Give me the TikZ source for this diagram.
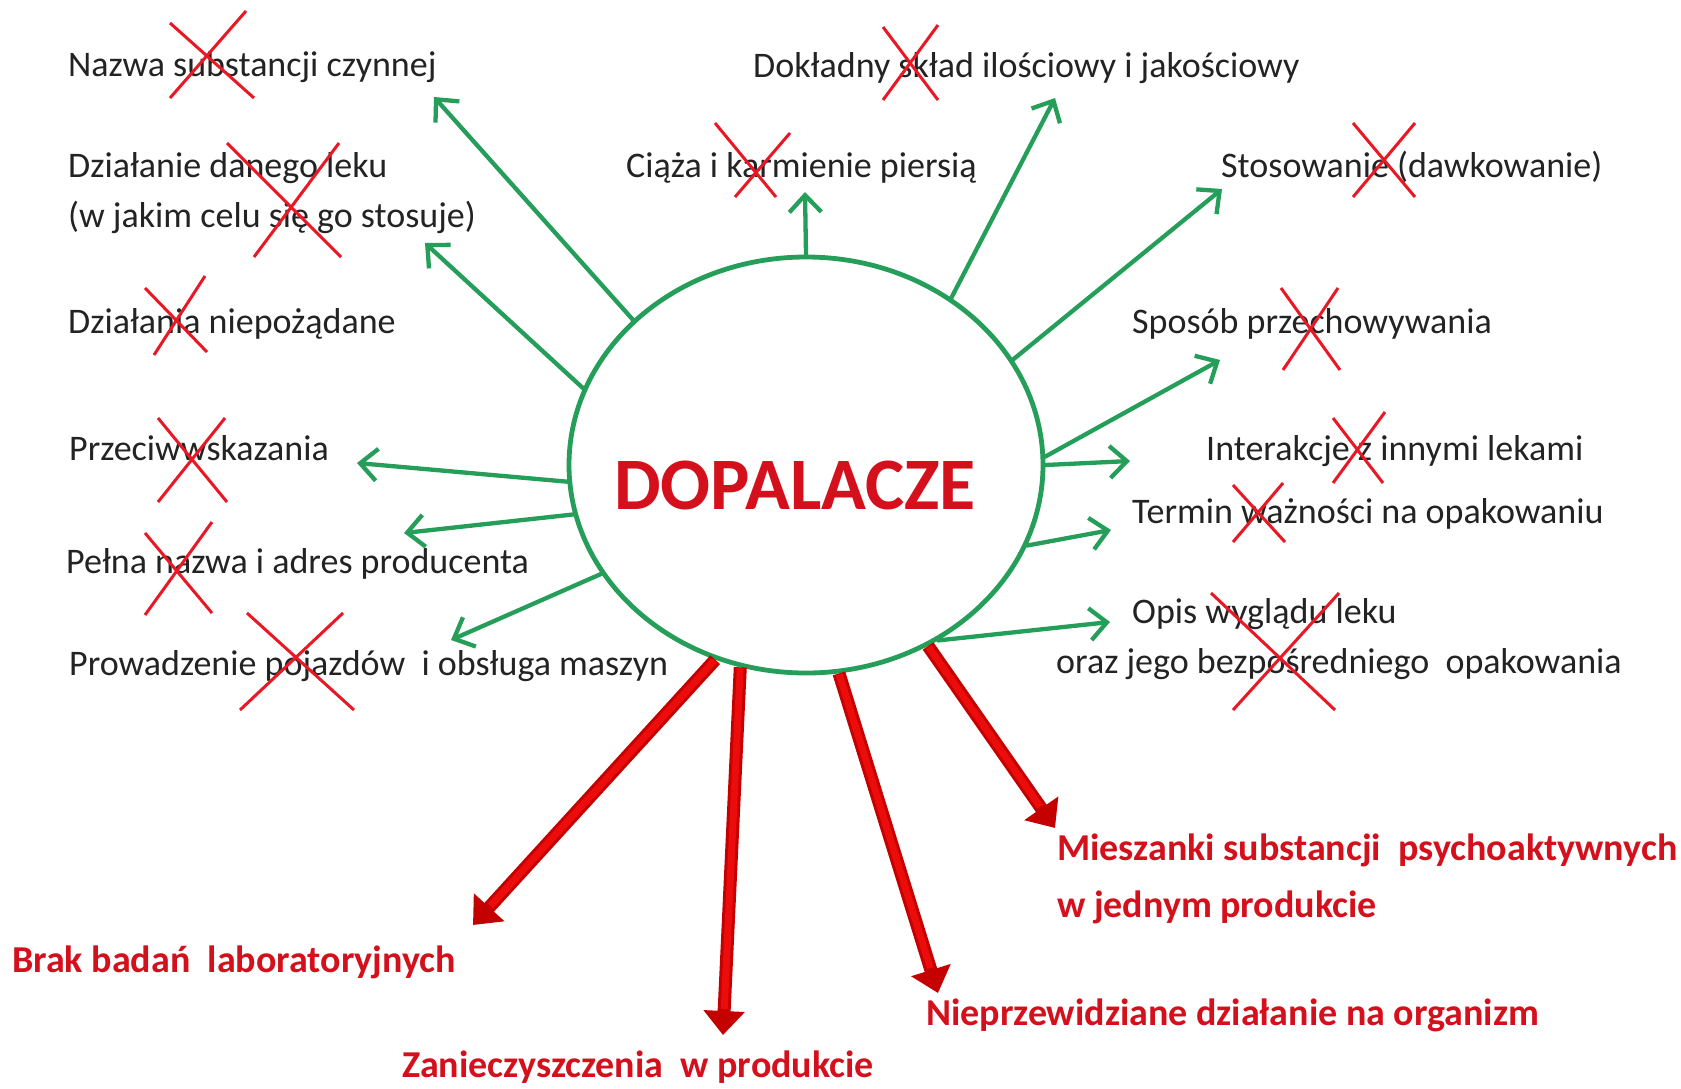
\documentclass[tikz,border=0pt]{standalone}
\usepackage{fontspec}
\setmainfont{Carlito}
\usetikzlibrary{arrows.meta,shapes.geometric}
\definecolor{grn}{RGB}{36,158,88}
\definecolor{xred}{RGB}{232,24,36}
\definecolor{tred}{RGB}{212,16,28}
\definecolor{ared}{RGB}{196,0,0}
\definecolor{ahl}{RGB}{236,12,12}
\definecolor{txt}{RGB}{35,35,35}
\begin{document}
\begin{tikzpicture}[x=1pt,y=-1pt,
  lbl/.style={anchor=base west,inner sep=0,text=txt,font=\fontsize{36}{42}\selectfont},
  rlbl/.style={anchor=base west,inner sep=0,text=tred,font=\fontsize{38}{44}\selectfont\bfseries},
  garr/.style={draw=grn,line width=4.3pt,line cap=round,-{Straight Barb[length=17pt,width=32pt]}},
  rarr/.style={draw=ared,line width=13pt,-{Triangle[length=24pt,width=40pt]}},
  rhl/.style={draw=ahl,line width=7pt,shorten >=26pt,shorten <=1pt},
  xmark/.style={draw=xred,line width=3pt}]
\fill[white] (0,0) rectangle (1681,1088);
\useasboundingbox (0,0) rectangle (1681,1088);

% centre
\node[ellipse,draw=grn,line width=4.8pt,minimum width=474pt,minimum height=416pt,inner sep=0] (c) at (806,465) {};
\node[anchor=base west,inner sep=0,text=tred,font=\fontsize{74}{82}\selectfont\bfseries] (title) at (614,509) {DOPALACZE};

% black labels
\node[lbl] (nazwa) at (68,76) {Nazwa substancji czynnej};
\node[lbl] (dz1) at (68,177) {Działanie danego leku};
\node[lbl] (dz2) at (68,227) {(w jakim celu się go stosuje)};
\node[lbl] (niep) at (68,333) {Działania niepożądane};
\node[lbl] (przec) at (69,460) {Przeciwwskazania};
\node[lbl] (pelna) at (66,573) {Pełna nazwa i adres producenta};
\node[lbl] (prow) at (69,675) {Prowadzenie pojazdów\ \ i obsługa maszyn};
\node[lbl] (dokl) at (753,77) {Dokładny skład ilościowy i jakościowy};
\node[lbl] (ciaza) at (626,177) {Ciąża i karmienie piersią};
\node[lbl] (stos) at (1221,177) {Stosowanie (dawkowanie)};
\node[lbl] (spos) at (1132,333) {Sposób przechowywania};
\node[lbl] (inter) at (1206,460) {Interakcje z innymi lekami};
\node[lbl] (term) at (1132,523) {Termin ważności na opakowaniu};
\node[lbl] (opis1) at (1132,623) {Opis wyglądu leku};
\node[lbl] (opis2) at (1056,673) {oraz jego bezpośredniego\ \ opakowania};

% red labels
\node[rlbl] (mies1) at (1057,860) {Mieszanki substancji\ \ psychoaktywnych};
\node[rlbl] (mies2) at (1057,917) {w jednym produkcie};
\node[rlbl] (brak) at (12,972) {Brak badań\ \ laboratoryjnych};
\node[rlbl] (zan) at (402,1077) {Zanieczyszczenia\ \ w produkcie};
\node[rlbl] (nieprz) at (926,1025) {Nieprzewidziane działanie na organizm};

% green arrow tips
\coordinate (g1) at (434,97);
\coordinate (g2) at (425,243);
\coordinate (g3) at (357,463);
\coordinate (g4) at (404,533);
\coordinate (g5) at (451,640);
\coordinate (g6) at (805,192);
\coordinate (g7) at (1055,98);
\coordinate (g8) at (1222,189);
\coordinate (g9) at (1220,360);
\coordinate (g10) at (1130,461);
\coordinate (g11) at (1111,530);
\coordinate (g12) at (1110,622);

\draw[garr] (c.140.7) -- (g1);
\draw[garr] (c.161.9) -- (g2);
\draw[garr] (c.184.8) -- (g3);
\draw[garr] (c.192.6) -- (g4);
\draw[garr] (c.208.5) -- (g5);
\draw[garr] (c.90.8) -- (g6);
\draw[garr] (c.49.5) -- (g7);
\draw[garr] (c.27.2) -- (g8);
\draw[garr] (c.2) -- (g9);
\draw[garr] (c.-0.5) -- (g10);
\draw[garr] (c.-20.5) -- (g11);
\draw[garr] (c.-53.1) -- (g12);

% red arrow tips
\coordinate (r1) at (473,925);
\coordinate (r2) at (723,1035);
\coordinate (r3) at (938,993);
\coordinate (r4) at (1055,828);
\draw[rarr] (c.-115.4) -- (r1);
\draw[rarr] (c.-108) -- (r2);
\draw[rarr] (c.-81) -- (r3);
\draw[rarr] (c.-56.9) -- (r4);
\draw[rhl] (c.-115.4) -- (r1);
\draw[rhl] (c.-108) -- (r2);
\draw[rhl] (c.-81) -- (r3);
\draw[rhl] (c.-56.9) -- (r4);

% crosses
\draw[xmark] (170,23) -- (254,98) (246,11) -- (170,98);
\draw[xmark] (227,143) -- (341,257) (339,143) -- (254,257);
\draw[xmark] (145,288) -- (207,352) (205,276) -- (154,355);
\draw[xmark] (158,418) -- (227,502) (225,418) -- (158,502);
\draw[xmark] (145,533) -- (212,613) (212,522) -- (145,615);
\draw[xmark] (247,613) -- (354,710) (343,613) -- (240,710);
\draw[xmark] (883,27) -- (938,100) (938,25) -- (883,100);
\draw[xmark] (715,123) -- (776,197) (790,133) -- (735,197);
\draw[xmark] (1353,123) -- (1415,197) (1415,123) -- (1353,197);
\draw[xmark] (1281,288) -- (1340,370) (1338,288) -- (1283,370);
\draw[xmark] (1333,418) -- (1383,483) (1385,412) -- (1333,483);
\draw[xmark] (1233,485) -- (1285,542) (1283,483) -- (1233,542);
\draw[xmark] (1211,593) -- (1335,710) (1339,593) -- (1233,710);
\end{tikzpicture}
\end{document}
